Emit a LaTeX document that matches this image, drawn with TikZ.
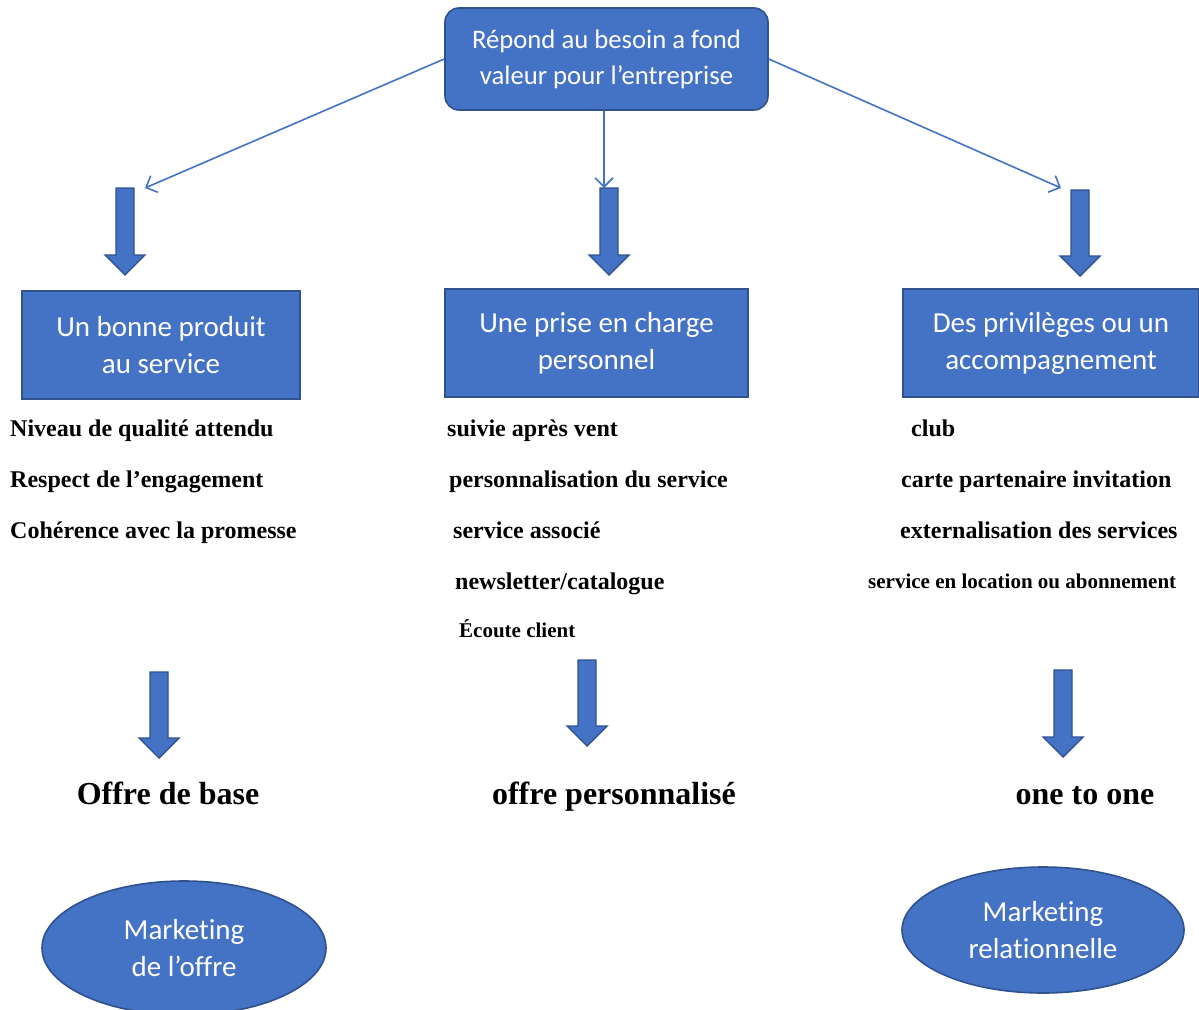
\documentclass[tikz,border=0pt]{standalone}
\usepackage{fontspec}
\setmainfont{Liberation Serif}
\newfontfamily\boxfont[Ligatures=NoCommon]{Carlito}
\usetikzlibrary{arrows.meta,shapes.geometric}
\definecolor{ofblue}{HTML}{4472C4}
\definecolor{ofborder}{HTML}{2F528F}
\tikzset{
  bluebox/.style={draw=ofborder, line width=1.6pt, fill=ofblue, text=white, align=center,
    font=\boxfont\fontsize{29}{37}\selectfont, inner sep=0pt},
  blueoval/.style={bluebox, ellipse},
  thinlink/.style={draw=ofblue, line width=1.6pt, -{Straight Barb[length=9pt,width=18pt,line width=1.6pt]}},
  blockarrow/.style={draw=ofborder, line width=1.4pt, fill=ofblue, line join=miter},
  item/.style={anchor=base west, inner sep=0pt, font=\bfseries\fontsize{24}{28}\selectfont},
  smallitem/.style={item, font=\bfseries\fontsize{21}{24}\selectfont},
  result/.style={anchor=base, inner sep=0pt, font=\bfseries\fontsize{32}{38}\selectfont}
}
\newcommand{\blockarr}[3]{% x, top, tip
  \draw[blockarrow] (#1-9,#2) -- (#1+9,#2) -- (#1+9,#3-20) -- (#1+20,#3-20) -- (#1,#3)
    -- (#1-20,#3-20) -- (#1-9,#3-20) -- cycle;}
\begin{document}
\begin{tikzpicture}[x=1pt,y=-1pt]
\useasboundingbox (0,0) rectangle (1199,1009);
% top box
\node[bluebox, rounded corners=14pt, minimum width=323pt, minimum height=102pt,
  font=\boxfont\fontsize{26.7}{36}\selectfont] (top) at (606.5,59)
  {Répond au besoin a fond\\valeur pour l’entreprise};
% targets of thin links (tops of block arrows)
\coordinate (tl) at (145,188);
\coordinate (tm) at (604,188);
\coordinate (tr) at (1061,188);
\draw[thinlink] (top.west) -- (tl);
\draw[thinlink] (top.south -| tm) -- (tm);
\draw[thinlink] (top.east) -- (tr);
% upper block arrows
\blockarr{125}{188}{275}
\blockarr{609}{188}{275}
\blockarr{1080}{190}{276}
% category boxes
\node[bluebox, minimum width=278pt, minimum height=108pt] (b1) at (161,345) {Un bonne produit\\au service};
\node[bluebox, minimum width=303pt, minimum height=108pt] (b2) at (596.5,343) {Une prise en charge\\personnel};
\node[bluebox, minimum width=296pt, minimum height=108pt] (b3) at (1051,343) {Des privilèges ou un\\accompagnement};
% lists
\node[item] (l1) at (10,436) {Niveau de qualité attendu};
\node[item] (l2) at (10,487) {Respect de l’engagement};
\node[item] (l3) at (10,538) {Cohérence avec la promesse};
\node[item] (m1) at (447,436) {suivie après vent};
\node[item] (m2) at (449,487) {personnalisation du service};
\node[item] (m3) at (453,538) {service associé};
\node[item] (m4) at (455,589) {newsletter/catalogue};
\node[smallitem] (m5) at (459,637) {Écoute client};
\node[item] (r1) at (911,436) {club};
\node[item] (r2) at (901,487) {carte partenaire invitation};
\node[item] (r3) at (900,538) {externalisation des services};
\node[smallitem] (r4) at (868,588) {service en location ou abonnement};
% lower block arrows
\blockarr{159}{672}{758}
\blockarr{587}{660}{746}
\blockarr{1063}{670}{757}
% results
\node[result] (o1) at (168,804) {Offre de base};
\node[result] (o2) at (614,804) {offre personnalisé};
\node[result] (o3) at (1085,804) {one to one};
% ovals
\node[blueoval, minimum width=284pt, minimum height=134pt] (e1) at (184,948) {Marketing\\de l’offre};
\node[blueoval, minimum width=282pt, minimum height=126pt] (e2) at (1043,930) {Marketing\\relationnelle};
\end{tikzpicture}
\end{document}
